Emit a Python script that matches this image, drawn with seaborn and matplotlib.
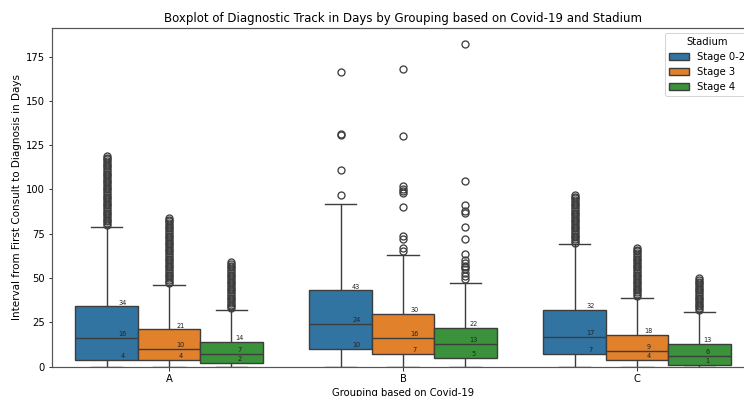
import numpy as np
import pandas as pd
import matplotlib
matplotlib.use("Agg")
import matplotlib.pyplot as plt
import seaborn as sns

groups = ["A", "B", "C"]
stages = ["Stage 0-2", "Stage 3", "Stage 4"]

# box statistics: [A, B, C] for each stage
q1 = {"Stage 0-2": [4, 10, 7], "Stage 3": [4, 7, 4], "Stage 4": [2, 5, 1]}
med = {"Stage 0-2": [16, 24, 17], "Stage 3": [10, 16, 9], "Stage 4": [7, 13, 6]}
q3 = {"Stage 0-2": [34, 43, 32], "Stage 3": [21, 30, 18], "Stage 4": [14, 22, 13]}
whisk_lo = {"Stage 0-2": [0, 0, 0], "Stage 3": [0, 0, 0], "Stage 4": [0, 0, 0]}
whisk_hi = {"Stage 0-2": [79, 92, 69], "Stage 3": [46, 63, 39], "Stage 4": [32, 47, 31]}

outliers = {
    ("A", "Stage 0-2"): [80, 81, 82, 83, 84, 85, 86, 87, 88, 89, 90, 91, 92, 93, 94, 95, 96, 97, 98, 99,
                         100, 101, 102, 103, 104, 105, 106, 107, 108, 109, 110, 111, 112, 113, 114, 115,
                         116, 117, 118, 119],
    ("A", "Stage 3"): [47, 48, 49, 50, 51, 52, 53, 54, 55, 56, 57, 58, 59, 60, 61, 62, 63, 64, 65, 66,
                       67, 68, 69, 70, 71, 72, 73, 74, 75, 76, 77, 78, 79, 80, 81, 82, 83, 84],
    ("A", "Stage 4"): [33, 34, 35, 36, 37, 38, 39, 40, 41, 42, 43, 44, 45, 46, 47, 48, 49, 50, 51, 52,
                       53, 54, 55, 56, 57, 58, 59],
    ("B", "Stage 0-2"): [97, 111, 131, 131.5, 166],
    ("B", "Stage 3"): [65, 67, 72, 74, 90, 98, 99, 100, 102, 130, 168],
    ("B", "Stage 4"): [49.5, 51, 53, 55, 56, 57, 58.5, 60, 63.5, 72, 79, 87, 88, 91, 105, 182],
    ("C", "Stage 0-2"): [70, 71, 72, 73, 74, 75, 76, 77, 78, 79, 80, 81, 82, 83, 84, 85, 86, 87, 88, 89,
                         90, 91, 92, 93, 94, 95, 96, 97],
    ("C", "Stage 3"): [40, 41, 42, 43, 44, 45, 46, 47, 48, 49, 50, 51, 52, 53, 54, 55, 56, 57, 58, 59,
                       60, 61, 62, 63, 64, 65, 66, 67],
    ("C", "Stage 4"): [32, 33, 34, 35, 36, 37, 38, 39, 40, 41, 42, 43, 44, 45, 46, 47, 48, 49, 50],
}

# build a sample per box that reproduces the statistics above
rows = []
n_rep = 1000
for gi, g in enumerate(groups):
    for s in stages:
        vals = ([whisk_lo[s][gi]] + [q1[s][gi]] * n_rep + [med[s][gi]] * n_rep +
                [q3[s][gi]] * n_rep + [whisk_hi[s][gi]] + outliers[(g, s)])
        for v in vals:
            rows.append((g, s, v))
df = pd.DataFrame(rows, columns=["Group", "Stadium", "Days"])

fig = plt.figure(figsize=(744 / 72, 396 / 72), dpi=72)
ax = fig.add_axes([52 / 744, (396 - 366.7) / 396, (754 - 52) / 744, (366.7 - 28) / 396])

palette = ["#1f77b4", "#ff7f0e", "#2ca02c"]
sns.boxplot(data=df, x="Group", y="Days", hue="Stadium", order=groups, hue_order=stages,
            palette=palette, ax=ax, linewidth=1.4,
            flierprops=dict(markersize=7, markeredgewidth=1.3))

offsets = [-0.2, 0.05, 0.3]
for gi, g in enumerate(groups):
    for si, s in enumerate(stages):
        x = gi + offsets[si]
        for v in (q1[s][gi], med[s][gi], q3[s][gi]):
            ax.text(x, v + 0.5, str(v), ha="center", va="bottom", fontsize=6.5, color="#222222")

for sp in ax.spines.values():
    sp.set_linewidth(1.2)
    sp.set_color("#555555")

ax.set_ylim(0, 191.1)
ax.set_xlim(-0.5, 2.5)
ax.set_title("Boxplot of Diagnostic Track in Days by Grouping based on Covid-19 and Stadium",
             fontsize=11.8)
ax.set_xlabel("Grouping based on Covid-19")
ax.set_ylabel("Interval from First Consult to Diagnosis in Days", fontsize=10.4)
ax.legend(title="Stadium", loc="upper right")

fig.savefig("out.png", dpi=72)
